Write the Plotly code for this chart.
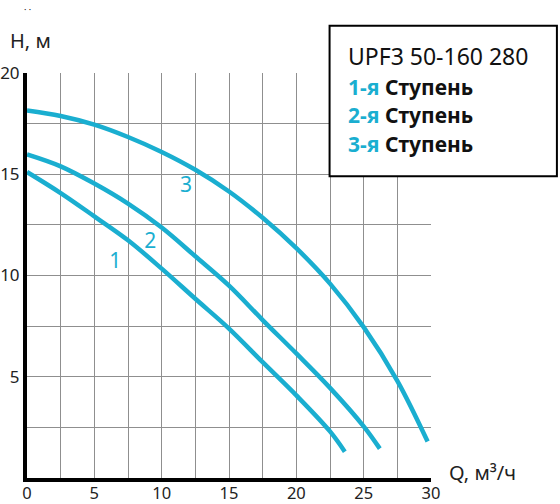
import plotly.graph_objects as go

# Data
Q1 = [0, 2.5, 5, 7.5, 10, 12.5, 15, 17.5, 20, 22.5, 23.6]
H1 = [15.11, 14.07, 12.92, 11.74, 10.34, 8.85, 7.38, 5.72, 4.08, 2.3, 1.3]

Q2 = [0, 2.5, 5, 7.5, 10, 12.5, 15, 17.5, 20, 22.5, 25, 26.2]
H2 = [15.98, 15.39, 14.54, 13.55, 12.37, 10.95, 9.5, 7.8, 6.15, 4.45, 2.55, 1.45]

Q3 = [0, 2.5, 5, 7.5, 10, 12.5, 15, 17.5, 20, 22.5, 25, 27.5, 29.75]
H3 = [18.15, 17.88, 17.45, 16.84, 16.1, 15.22, 14.15, 12.85, 11.35, 9.6, 7.45, 4.8, 1.8]

curve_labels = ["1", "2", "3"]
label_Q = [6.55, 9.15, 11.8]
label_H = [10.65, 11.6, 14.4]

x_grid = [0, 2.5, 5, 7.5, 10, 12.5, 15, 17.5, 20, 22.5, 25, 27.5, 30]
x_labels = ["0", "", "5", "", "10", "", "15", "", "20", "", "25", "", "30"]
y_grid = [0, 2.5, 5, 7.5, 10, 12.5, 15, 17.5, 20]
y_labels = ["", "", "5", "", "10", "", "15", "", "20"]

title_text = "UPF3 50-160 280"
legend_prefixes = ["1-я", "2-я", "3-я"]
legend_word = "Ступень"

CYAN = "#1AAED0"
FONT = "Noto Sans"
GRID = "#8f8f8f"

fig = go.Figure()
for q, h in [(Q1, H1), (Q2, H2), (Q3, H3)]:
    fig.add_trace(go.Scatter(x=q, y=h, mode="lines",
                             line=dict(color=CYAN, width=4.5, shape="spline", smoothing=1.0),
                             showlegend=False, hoverinfo="skip"))

fig.add_trace(go.Scatter(x=label_Q, y=label_H, mode="text", text=curve_labels,
                         textfont=dict(color=CYAN, size=21, family=FONT),
                         showlegend=False, hoverinfo="skip"))

W, H = 560, 504
L, R, T, B = 26.7, 431, 72.7, 477.7

fig.update_layout(
    template="none",
    width=W, height=H,
    margin=dict(l=L, r=W - R, t=T, b=H - B, pad=0, autoexpand=False),
    paper_bgcolor="white", plot_bgcolor="white",
    font=dict(family=FONT, color="#222"),
    xaxis=dict(range=[0, 30], tickmode="array", tickvals=x_grid, ticktext=x_labels,
               showgrid=True, gridcolor=GRID, gridwidth=1, automargin=False,
               showline=True, linecolor="black", linewidth=4,
               zeroline=False, ticks="", tickfont=dict(size=16.5, color="#222", family=FONT),
               ticklabelstandoff=-3, fixedrange=True),
    yaxis=dict(range=[0, 20], tickmode="array", tickvals=y_grid, ticktext=y_labels,
               showgrid=True, gridcolor=GRID, gridwidth=1, automargin=False,
               showline=True, linecolor="black", linewidth=4,
               zeroline=False, ticks="", tickfont=dict(size=17, color="#222", family=FONT),
               fixedrange=True),
)

def px(xp):
    return (xp - L) / (R - L)

def py(yp):
    return (B - yp) / (B - T)

# axis titles
fig.add_annotation(x=px(8), y=py(40), xref="paper", yref="paper", xanchor="left", yanchor="middle",
                   text="H, м", showarrow=False, font=dict(size=20, color="#222", family=FONT))
fig.add_annotation(x=px(447), y=py(472), xref="paper", yref="paper", xanchor="left", yanchor="middle",
                   text="Q, м³/ч", showarrow=False, font=dict(size=20, color="#222", family=FONT))
fig.add_annotation(x=px(27), y=py(0.5), xref="paper", yref="paper", xanchor="center", yanchor="top",
                   text="· ·", showarrow=False, font=dict(size=9, color="#222", family=FONT))

# legend box
fig.add_shape(type="rect", xref="paper", yref="paper",
              x0=px(329.5), x1=px(557), y0=py(176), y1=py(25.5),
              line=dict(color="black", width=2), fillcolor="white", layer="above")
fig.add_annotation(x=px(346), y=py(56), xref="paper", yref="paper", xanchor="left", yanchor="middle",
                   text=title_text, showarrow=False, font=dict(size=23, color="#111", family=FONT))
for i, pre in enumerate(legend_prefixes):
    fig.add_annotation(x=px(346), y=py(86.5 + 28.5 * i), xref="paper", yref="paper",
                       xanchor="left", yanchor="middle", showarrow=False,
                       text=f"<b><span style='color:{CYAN}'>{pre}</span> {legend_word}</b>",
                       font=dict(size=21, color="#111", family=FONT))

fig.write_html("out.html", config={"displayModeBar": False},
               post_script="document.body.style.margin='0';document.body.style.padding='0';")
